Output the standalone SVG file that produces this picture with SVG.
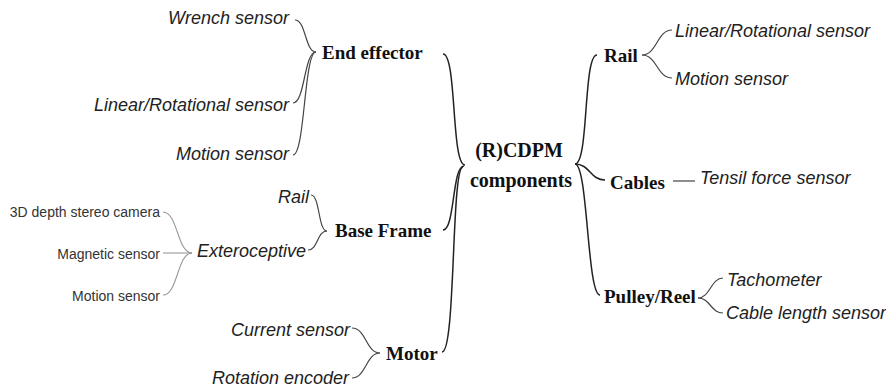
<svg xmlns="http://www.w3.org/2000/svg" width="886" height="389" viewBox="0 0 886 389">
<style>
.b{font-family:"Liberation Serif","Times New Roman",serif;font-weight:bold;font-size:19px;fill:#111}
.c{font-family:"Liberation Serif","Times New Roman",serif;font-weight:bold;font-size:20px;fill:#111}
.i{font-family:"Liberation Sans",Arial,sans-serif;font-style:italic;font-size:18px;fill:#222}
.s{font-family:"Liberation Sans",Arial,sans-serif;font-size:14px;fill:#333}
.e{text-anchor:end}
.m{text-anchor:middle}
.l1{fill:none;stroke:#222;stroke-width:1.5}
.l2{fill:none;stroke:#444;stroke-width:1.2}
.l3{fill:none;stroke:#999;stroke-width:1.1}
</style>
<rect width="886" height="389" fill="#fff"/>
<g id="connectors">
<path class="l1" d="M443,54 C457,54 451,165 465,165"/>
<path class="l1" d="M443,230 C455,230 452,166 464,166"/>
<path class="l1" d="M442,352 C456,352 451,167 463,167"/>
<path class="l1" d="M575,164 C589,164 583,55 597,55"/>
<path class="l1" d="M575,164 C590,164 590,180 605,180"/>
<path class="l1" d="M575,164 C588,164 587,295 600,295"/>
<path class="l2" d="M295,20 C306,20 305,52 316,52"/>
<path class="l2" d="M293,103 C305,103 304,52 316,52"/>
<path class="l2" d="M293,155 C305,155 304,52 316,52"/>
<path class="l2" d="M311,195 C320,195 318,231 327,231"/>
<path class="l2" d="M308,250 C318,250 317,231 327,231"/>
<path class="l3" d="M163,212 C178,212 177,253 192,253"/>
<path class="l3" d="M163,253 L192,253"/>
<path class="l3" d="M163,295 C178,295 177,253 192,253"/>
<path class="l2" d="M352,328 C366,328 366,353 380,353"/>
<path class="l2" d="M352,378 C366,378 366,353 380,353"/>
<path class="l2" d="M642,55 C657,55 657,30 672,30"/>
<path class="l2" d="M642,55 C657,55 657,78 672,78"/>
<path class="l2" d="M673,181 L695,181"/>
<path class="l2" d="M698,298 C710,298 711,278 723,278"/>
<path class="l2" d="M698,298 C710,298 711,313 723,313"/>
</g>
<g id="center"><text class="c m" x="519" y="157">(R)CDPM</text><text class="c m" x="521" y="187">components</text></g>
<g id="end-effector"><text class="b" x="322" y="59">End effector</text></g>
<g id="ee-wrench"><text class="i e" x="289" y="24">Wrench sensor</text></g>
<g id="ee-linear"><text class="i e" x="289" y="111">Linear/Rotational sensor</text></g>
<g id="ee-motion"><text class="i e" x="289" y="160">Motion sensor</text></g>
<g id="base-frame"><text class="b" x="335" y="237">Base Frame</text></g>
<g id="bf-rail"><text class="i e" x="309" y="203">Rail</text></g>
<g id="bf-extero"><text class="i e" x="306" y="257">Exteroceptive</text></g>
<g id="ext-camera"><text class="s e" x="160" y="217">3D depth stereo camera</text></g>
<g id="ext-magnetic"><text class="s e" x="160" y="259">Magnetic sensor</text></g>
<g id="ext-motion"><text class="s e" x="160" y="301">Motion sensor</text></g>
<g id="motor"><text class="b" x="386" y="360">Motor</text></g>
<g id="motor-current"><text class="i e" x="350" y="336">Current sensor</text></g>
<g id="motor-rotation"><text class="i e" x="349" y="384">Rotation encoder</text></g>
<g id="rail"><text class="b" x="604" y="62">Rail</text></g>
<g id="rail-linear"><text class="i" x="675" y="37">Linear/Rotational sensor</text></g>
<g id="rail-motion"><text class="i" x="675" y="85">Motion sensor</text></g>
<g id="cables"><text class="b" x="610" y="189">Cables</text></g>
<g id="cables-tensil"><text class="i" x="700" y="184">Tensil force sensor</text></g>
<g id="pulley"><text class="b" x="604" y="303">Pulley/Reel</text></g>
<g id="pulley-tacho"><text class="i" x="727" y="286">Tachometer</text></g>
<g id="pulley-length"><text class="i" x="726" y="319">Cable length sensor</text></g>
</svg>
